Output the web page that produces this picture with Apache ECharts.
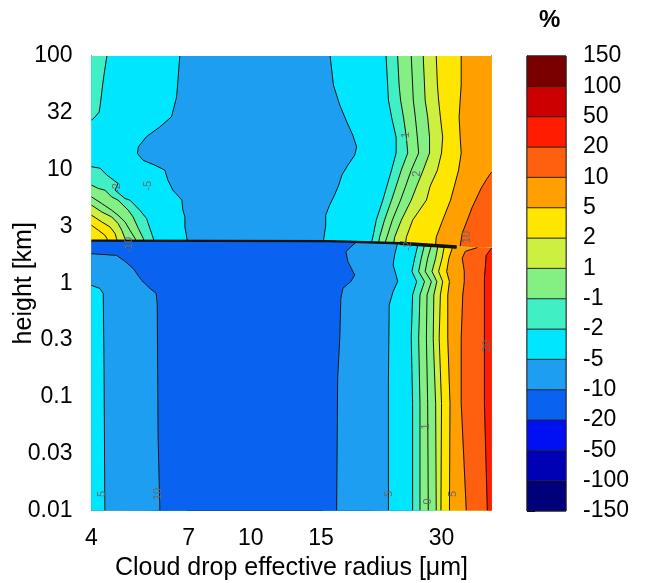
<!DOCTYPE html>
<html><head><meta charset="utf-8">
<script src="https://cdn.jsdelivr.net/npm/echarts@6/dist/echarts.min.js"></script>
<style>html,body{margin:0;padding:0;background:#fff}#c{width:654px;height:583px}</style>
</head><body><div id="c"></div>
<script>
// ---- colour levels (colour bar) ----
const levels = [-150,-100,-50,-20,-10,-5,-2,-1,1,2,5,10,20,50,100,150];
const bandColors = ['#00007a','#0000b4','#0010f2','#0a62f0','#1e9ef0','#00e6ff','#40f0c4','#84f084','#cdf040','#ffe600','#ffa000','#ff6010','#ff1c00','#cc0000','#7a0000'];

// ---- axis ticks ----
const xTicks = [4,7,10,15,20,30];
const xLabelValues = [4,7,10,15,30];
const yTicks = [0.01,0.0316,0.1,0.316,1,3.16,10,31.6,100];
const yTickLabels = ['0.01','0.03','0.1','0.3','1','3','10','32','100'];

// ---- inversion (jump between upper and lower regime), [radius um, height km] ----
const inversion = [[4,2.37],[15.75,2.35],[23.6,2.25],[32.7,2.08],[40,2.04]];

// ---- contour lines above the inversion ----
const upLeftM5  = [[6.65,100],[6.53,43.8],[6.34,29.2],[5.93,23.8],[5.49,19.5],[5.24,15.9],[5.21,13.9],[5.38,12.1],[5.76,10.95],[6.1,9.9],[6.21,8.08],[6.39,6.6],[6.73,5.39],[6.77,4.4],[6.85,3.82],[6.85,3.11],[6.93,2.49],[6.93,2.36]];
const upLeftM2Top = [[4.37,100],[4.28,61.5],[4.2,35.5],[4.18,32.1],[4.08,29.0],[4,27.3]];
const upLeftM2  = [[4,10.6],[4.2,10.3],[4.37,8.95],[4.66,7.56],[4.58,6.6],[4.85,5.57],[4.99,5.39],[5.28,4.4],[5.49,3.72],[5.6,3.03],[5.71,2.48],[5.73,2.36]];
const upLeftM1  = [[4,7.3],[4.16,6.83],[4.32,6.6],[4.49,5.76],[4.66,5.39],[4.94,4.4],[5.08,3.84],[5.24,3.03],[5.39,2.48],[5.41,2.36]];
const upLeft0   = [[4,5.76],[4.24,5.04],[4.49,4.4],[4.66,3.97],[4.85,3.47],[4.99,2.93],[5.14,2.48],[5.16,2.36]];
const upLeft1   = [[4,4.87],[4.24,4.25],[4.49,3.84],[4.66,3.36],[4.76,2.93],[4.85,2.48],[4.87,2.36]];
const upLeft2   = [[4,3.97],[4.24,3.47],[4.45,3.13],[4.58,2.74],[4.62,2.48],[4.63,2.36]];
const upLeft2b  = [[4,3.24],[4.16,2.93],[4.32,2.65],[4.37,2.48],[4.38,2.36]];
const upRightM5 = [[15.8,100],[16.1,55.5],[16.7,37],[17.4,26.2],[18.0,20.1],[18.4,15.8],[18.2,13.4],[17.5,10.95],[16.9,8.95],[16.6,7.3],[16.2,5.96],[15.75,4.87],[15.4,3.97],[15.4,3.24],[15.3,2.76],[15.2,2.35]];
const upRightM2 = [[21.8,100],[22.0,55.5],[22.1,40.9],[22.5,29.0],[23.1,19.3],[23.1,14.0],[22.5,9.9],[21.9,7.15],[21.4,5.39],[20.6,3.59],[20.2,2.54],[20.05,2.3]];
const upRightM1 = [[23.3,100],[23.5,55.5],[23.7,40.9],[24.1,29.0],[24.5,19.3],[24.7,14.0],[23.8,9.9],[23.1,7.15],[22.5,5.39],[21.6,3.59],[21.0,2.54],[20.9,2.3]];
const upRight0  = [[25.2,100],[25.4,55.5],[25.5,40.9],[25.8,29.0],[26.1,19.3],[26.3,14.0],[25.2,9.9],[24.4,7.15],[23.7,5.39],[22.6,3.59],[21.9,2.54],[21.7,2.3]];
const upRight1  = [[27.0,100],[27.2,55.5],[27.3,40.9],[27.7,29.0],[28.0,19.3],[28.0,14.0],[27.0,9.9],[26.0,7.15],[25.2,5.39],[23.8,3.59],[22.9,2.54],[22.8,2.3]];
const upRight2  = [[29.1,100],[29.3,55.5],[29.5,40.9],[29.8,29.0],[30.2,19.3],[30.0,14.0],[29.3,9.9],[28.1,7.15],[27.5,5.39],[25.4,3.59],[24.5,2.54],[24.4,2.28]];
const upRight5  = [[33.6,100],[33.6,55.5],[33.4,40.9],[33.2,29.0],[33.4,19.3],[33.6,14.0],[33.1,9.9],[32.3,7.15],[31.6,5.39],[30.2,3.59],[29.1,2.54],[29.0,2.2]];
const upRight10 = [[40,9.5],[39.05,8.42],[37.7,6.87],[35.8,4.67],[34.8,3.59],[33.8,2.76],[33.4,2.12]];

// ---- contour lines below the inversion ----
const lowLeftM10  = [[4,1.82],[4.62,1.76],[4.85,1.56],[5.08,1.355],[5.34,1.06],[5.6,0.903],[5.8,0.816],[5.84,0.666],[5.87,0.044],[5.93,0.01]];
const lowLeftM5   = [[4,0.96],[4.2,0.898],[4.28,0.811],[4.3,0.171],[4.32,0.01]];
const lowRightM10 = [[18.4,2.32],[17.3,1.9],[17.5,1.55],[18.2,1.18],[17.8,1.035],[17.0,0.903],[16.8,0.737],[16.7,0.328],[16.5,0.146],[16.4,0.01]];
const lowRightM5  = [[23.3,2.26],[22.9,1.78],[22.7,1.45],[23.1,1.18],[23.3,1.035],[22.7,0.845],[22.2,0.644],[22.1,0.146],[22.1,0.01]];
const lowRightM2  = [[26.2,2.2],[25.7,1.66],[25.3,1.27],[26.0,1.035],[25.4,0.789],[25.2,0.328],[25.4,0.0876],[25.4,0.01]];
const lowRightM1  = [[27.2,2.18],[26.7,1.66],[26.3,1.27],[27.2,1.035],[26.5,0.789],[26.3,0.328],[26.5,0.0876],[26.5,0.01]];
const lowRight0   = [[28.3,2.16],[27.7,1.66],[27.3,1.27],[28.3,1.035],[27.6,0.789],[27.5,0.328],[27.7,0.0876],[27.8,0.01]];
const lowRight1   = [[29.4,2.15],[29.0,1.66],[28.4,1.27],[29.2,1.035],[28.7,0.789],[28.6,0.328],[29.0,0.0876],[29.1,0.01]];
const lowRight2   = [[30.5,2.14],[30.1,1.66],[29.5,1.27],[30.2,1.035],[29.8,0.789],[29.6,0.328],[30.0,0.0876],[29.9,0.01]];
const lowRight5   = [[32.0,2.1],[31.3,1.66],[30.9,1.27],[31.4,1.035],[31.1,0.789],[31.1,0.328],[31.5,0.0876],[31.4,0.01]];
const lowRight10  = [[36.9,2.06],[34.4,1.91],[33.8,1.66],[34.2,1.27],[34.2,1.035],[33.9,0.789],[33.6,0.328],[33.6,0.0876],[34.6,0.01]];
const lowRight20  = [[40,2.04],[38.8,1.76],[38.4,1.106],[38.4,0.171],[38.4,0.0876],[39.05,0.01]];

// ---- contour labels [radius, height, text] ----
const contourLabels = [
  [5.55,7.2,'-5'],[4.62,6.9,'-2'],[4.95,2.18,'-10'],
  [4.26,0.014,'5'],[5.87,0.014,'10'],[22.2,0.014,'5'],[27.7,0.012,'0'],[32.0,0.014,'5'],
  [39.0,0.28,'20'],[24.4,19.5,'-1'],[26.0,9.2,'2'],[34.8,2.55,'10'],[24.8,2.12,'-2'],[27.5,0.055,'1']
];

const upperContours = [
  {pts:upLeftM5, level:-5, side:'left'},
  {pts:upLeftM2Top, level:-2, side:'left'},
  {pts:upLeftM2, level:-2, side:'left'},
  {pts:upLeftM1, level:-1, side:'left'},
  {pts:upLeft0, level:0, side:'left'},
  {pts:upLeft1, level:1, side:'left'},
  {pts:upLeft2, level:2, side:'left'},
  {pts:upLeft2b, level:2, side:'left'},
  {pts:upRightM5, level:-5, side:'right'},
  {pts:upRightM2, level:-2, side:'right'},
  {pts:upRightM1, level:-1, side:'right'},
  {pts:upRight0, level:0, side:'right'},
  {pts:upRight1, level:1, side:'right'},
  {pts:upRight2, level:2, side:'right'},
  {pts:upRight5, level:5, side:'right'},
  {pts:upRight10, level:10, side:'right'}
];
const lowerContours = [
  {pts:lowLeftM10, level:-10, side:'left'},
  {pts:lowLeftM5, level:-5, side:'left'},
  {pts:lowRightM10, level:-10, side:'right'},
  {pts:lowRightM5, level:-5, side:'right'},
  {pts:lowRightM2, level:-2, side:'right'},
  {pts:lowRightM1, level:-1, side:'right'},
  {pts:lowRight0, level:0, side:'right'},
  {pts:lowRight1, level:1, side:'right'},
  {pts:lowRight2, level:2, side:'right'},
  {pts:lowRight5, level:5, side:'right'},
  {pts:lowRight10, level:10, side:'right'},
  {pts:lowRight20, level:20, side:'right'}
];

const X0 = 4, X1 = 40, Y0 = 0.01, Y1 = 100;
function bandOf(level){ let b = 0; for (let k = 0; k < levels.length - 1; k++) if (levels[k] <= level) b = k; return b; }
function upperPoly(c){
  const p = c.pts, f = p[0], l = p[p.length-1], ex = c.side === 'left' ? X0 : X1;
  return p.concat([[l[0],Y0],[ex,Y0],[ex,f[1]]]);
}
function lowerPoly(c){
  const p = c.pts, f = p[0];
  if (c.side === 'left') return p.concat([[X0,Y0]]);
  const inv = inversion.filter(q => q[0] > f[0]).reverse();
  return p.concat([[X1,Y0]], inv);
}
const fills = [];
fills.push({pts:[[X0,Y1],[X1,Y1],[X1,Y0],[X0,Y0]], color:bandColors[bandOf(-10)]});
upperContours.forEach(c => fills.push({pts:upperPoly(c), color:bandColors[bandOf(c.level)]}));
fills.push({pts:inversion.concat([[X1,Y0],[X0,Y0]]), color:bandColors[bandOf(-20)]});
lowerContours.forEach(c => fills.push({pts:lowerPoly(c), color:bandColors[bandOf(c.level)]}));
const strokes = upperContours.concat(lowerContours).map(c => c.pts);

const FONT = 'Liberation Sans, Arial, Helvetica, sans-serif';
function yLab(v){
  let best = 0, bd = 1e9;
  yTicks.forEach((t,i) => { const d = Math.abs(Math.log10(t) - Math.log10(v)); if (d < bd){ bd = d; best = i; } });
  return yTickLabels[best];
}

const chart = echarts.init(document.getElementById('c'));
chart.setOption({
  animation:false,
  backgroundColor:'#fff',
  title:{text:'%', left:534, top:3, textStyle:{fontFamily:FONT, fontSize:24, fontWeight:'bold', color:'#000'}},
  grid:[
    {left:91.5, top:56, width:400, height:454.5, show:false, outerBoundsMode:'none'},
    {left:527, top:56, width:39, height:455, show:true, borderColor:'#000', borderWidth:1, outerBoundsMode:'none'}
  ],
  xAxis:[
    {type:'log', gridIndex:0, min:X0, max:X1, logBase:10,
     name:'Cloud drop effective radius [\u03bcm]', nameLocation:'middle', nameGap:43,
     nameTextStyle:{fontFamily:FONT, fontSize:25, color:'#000'},
     axisLine:{show:true, onZero:false, lineStyle:{color:'#000', width:1}},
     axisTick:{show:true, inside:true, length:10, customValues:xTicks, lineStyle:{color:'#000'}},
     axisLabel:{customValues:xLabelValues, margin:17, fontFamily:FONT, fontSize:23, color:'#000', formatter:v => String(Math.round(v))},
     splitLine:{show:false}, minorTick:{show:false}},
    {type:'log', gridIndex:0, min:X0, max:X1, position:'top',
     axisLine:{show:true, onZero:false, lineStyle:{color:'#000', width:1}},
     axisTick:{show:false}, axisLabel:{show:false}, splitLine:{show:false}},
    {type:'value', gridIndex:1, min:0, max:1, show:false}
  ],
  yAxis:[
    {type:'log', gridIndex:0, min:Y0, max:Y1, logBase:10,
     name:'height [km]', nameLocation:'middle', nameGap:55, nameMoveOverlap:false,
     nameTextStyle:{fontFamily:FONT, fontSize:25, color:'#000'},
     axisLine:{show:true, onZero:false, lineStyle:{color:'#000', width:1}},
     axisTick:{show:true, inside:true, length:8, customValues:yTicks, lineStyle:{color:'#000'}},
     axisLabel:{customValues:yTicks, margin:19, fontFamily:FONT, fontSize:23, color:'#000', formatter:yLab},
     splitLine:{show:false}},
    {type:'log', gridIndex:0, min:Y0, max:Y1, position:'right',
     axisLine:{show:true, onZero:false, lineStyle:{color:'#000', width:1}},
     axisTick:{show:false}, axisLabel:{show:false}, splitLine:{show:false}},
    {type:'value', gridIndex:1, min:0, max:15, interval:1, position:'right',
     axisLine:{show:true, lineStyle:{color:'#000'}},
     axisTick:{show:true, inside:false, length:8, lineStyle:{color:'#000'}},
     axisLabel:{margin:17, fontFamily:FONT, fontSize:23, color:'#000', formatter:v => String(levels[Math.round(v)])},
     splitLine:{show:false}}
  ],
  series:[
    {type:'custom', xAxisIndex:0, yAxisIndex:0, clip:true, silent:true, z:2,
     data:fills.map((f,i) => [f.pts[0][0], f.pts[0][1], i]),
     encode:{x:0, y:1},
     renderItem:(params, api) => {
       const f = fills[api.value(2)];
       return {type:'polygon', shape:{points:f.pts.map(q => api.coord(q))},
               style:{fill:f.color, stroke:f.color, lineWidth:0.6}};
     }},
    {type:'custom', xAxisIndex:0, yAxisIndex:0, clip:true, silent:true, z:3,
     data:strokes.map((s,i) => [s[0][0], s[0][1], i]),
     encode:{x:0, y:1},
     renderItem:(params, api) => {
       const s = strokes[api.value(2)];
       return {type:'polyline', shape:{points:s.map(q => api.coord(q))},
               style:{fill:null, stroke:'#111', lineWidth:1}};
     }},
    {type:'custom', xAxisIndex:0, yAxisIndex:0, clip:true, silent:true, z:4,
     data:[[inversion[0][0], inversion[0][1]]],
     encode:{x:0, y:1},
     renderItem:(params, api) => {
       const pts = inversion.filter(q => q[0] <= 33).map(q => api.coord(q));
       const wedge = inversion.filter(q => q[0] >= 20 && q[0] <= 33).map(q => api.coord(q));
       return {type:'group', children:[
         {type:'polyline', shape:{points:pts}, style:{fill:null, stroke:'#111', lineWidth:2.4}},
         {type:'polyline', shape:{points:wedge}, style:{fill:null, stroke:'#111', lineWidth:3.5}}
       ]};
     }},
    {type:'custom', xAxisIndex:0, yAxisIndex:0, clip:true, silent:true, z:5,
     data:contourLabels.map(l => [l[0], l[1], l[2]]),
     encode:{x:0, y:1},
     renderItem:(params, api) => {
       const l = contourLabels[params.dataIndex];
       const p = api.coord([l[0], l[1]]);
       return {type:'text', x:p[0], y:p[1], rotation:Math.PI/2,
               style:{text:l[2], fill:'#6a6a6a', font:'11px ' + FONT, align:'center', verticalAlign:'middle'}};
     }},
    {type:'custom', xAxisIndex:2, yAxisIndex:2, silent:true, z:2,
     data:bandColors.map((c,i) => [0, i]),
     renderItem:(params, api) => {
       const i = params.dataIndex;
       const a = api.coord([0, i]), b = api.coord([1, i + 1]);
       return {type:'rect', shape:{x:a[0], y:b[1], width:b[0]-a[0], height:a[1]-b[1]},
               style:{fill:bandColors[i], stroke:'#222', lineWidth:0.8}};
     }}
  ]
});
</script></body></html>
